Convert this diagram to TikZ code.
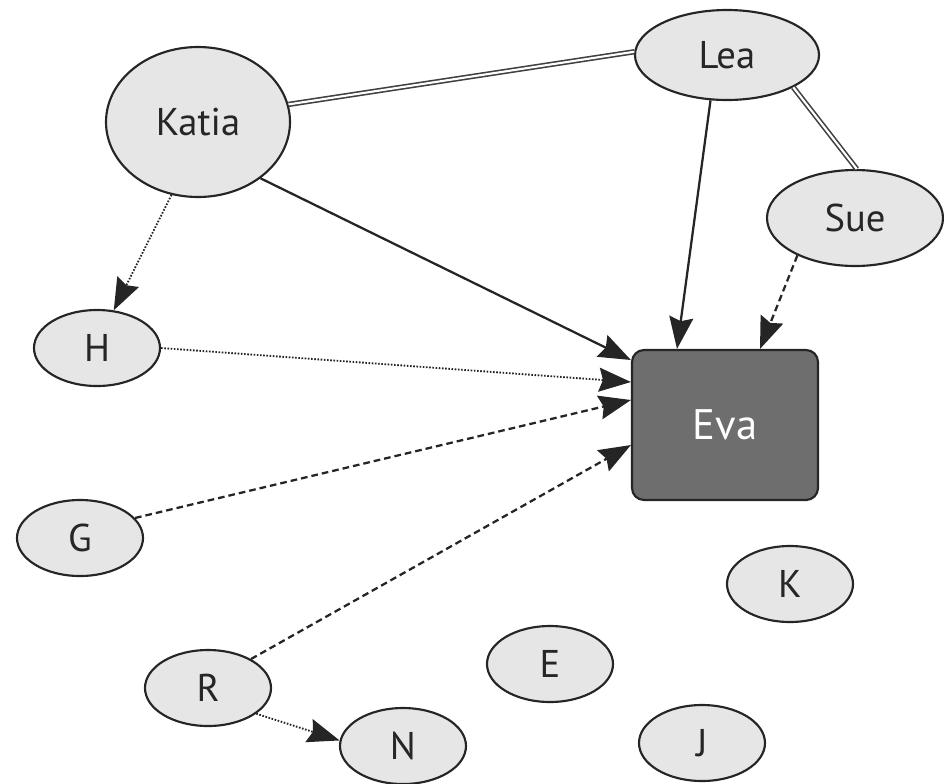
\documentclass[tikz,border=0pt]{standalone}
\usepackage{fontspec}
\setmainfont{PT Sans}
\usetikzlibrary{shapes.geometric,arrows.meta}
\definecolor{ellfill}{HTML}{E6E6E6}
\definecolor{evafill}{HTML}{6E6E6E}
\definecolor{edge}{HTML}{252525}
\begin{document}
\begin{tikzpicture}[x=0.75pt,y=-0.75pt,
  person/.style={ellipse,draw=edge,line width=1.6pt,fill=ellfill,inner sep=0pt,
    font=\fontsize{29}{34}\selectfont,text=black!85},
  small/.style={person,minimum width=94.5pt,minimum height=57pt},
  focus/.style={rectangle,rounded corners=9pt,draw=edge,line width=1.6pt,fill=evafill,
    minimum width=139.5pt,minimum height=112.5pt,inner sep=0pt,
    font=\fontsize{32}{36}\selectfont,text=white},
  arr/.style={-{Stealth[length=24pt,width=18pt,inset=3pt]},line width=1.7pt,draw=edge},
  solidarr/.style={arr},
  dashedarr/.style={arr,dash pattern=on 5pt off 3pt},
  dottedarr/.style={arr,line width=1.4pt,dash pattern=on 1.2pt off 1.2pt},
  tie/.style={draw=black!75,line width=1.2pt,double=white,double distance=1.6pt}
]
\useasboundingbox (0,0) rectangle (944,783);
\node[person,minimum width=138pt,minimum height=112.5pt] (katia) at (198,122) {Katia};
\node[person,minimum width=138pt,minimum height=67.5pt] (lea) at (727,55) {Lea};
\node[person,minimum width=132pt,minimum height=72pt] (sue) at (855,218) {Sue};
\node[focus] (eva) at (725,425) {Eva};
\node[small] (h) at (97,348) {H};
\node[small] (g) at (80,538) {G};
\node[small] (r) at (208,688) {R};
\node[small] (n) at (403,746) {N};
\node[small] (e) at (550,664) {E};
\node[small] (k) at (790,584) {K};
\node[small] (j) at (702,743) {J};

\draw[tie] (katia.11) -- (lea.178);
\draw[tie] (lea.-26) -- (sue.88);

\draw[solidarr] (katia.-42) -- ([yshift=48.75pt]eva.west);
\draw[solidarr] (lea.-110) -- ([xshift=-36pt]eva.north);
\draw[dashedarr] (sue.-147.5) -- ([xshift=26.25pt]eva.north);
\draw[dottedarr] (katia.-110) -- (h.66);
\draw[dottedarr] (h.east) -- ([yshift=32.25pt]eva.west);
\draw[dashedarr] (g.20) -- ([yshift=18.75pt]eva.west);
\draw[dashedarr] (r.34) -- ([yshift=-15pt]eva.west);
\draw[dottedarr] (r.-28) -- (n.175);
\end{tikzpicture}
\end{document}
